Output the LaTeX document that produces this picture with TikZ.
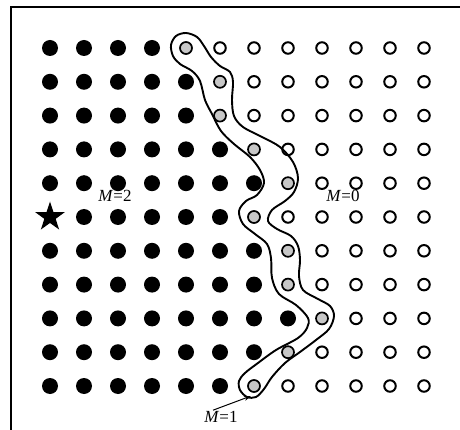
\documentclass[tikz,border=0pt]{standalone}
\usepackage{fontspec}
\setmainfont{Liberation Serif}
\usetikzlibrary{arrows.meta, shapes.geometric}

\tikzset{
  blackdot/.style={circle, fill=black, inner sep=0pt, minimum size=16pt},
  opendot/.style={circle, draw, line width=2pt, fill=white, inner sep=0pt, minimum size=11.5pt},
  greydot/.style={circle, draw, line width=1.7pt, fill=black!22, inner sep=0pt, minimum size=12pt},
  starmark/.style={star, star points=5, star point ratio=2.6, fill=black, inner sep=0pt, minimum size=31pt},
  mlabel/.style={font=\fontsize{17}{17}\selectfont, inner sep=1pt}
}

\begin{document}
\begin{tikzpicture}[>={Stealth[length=7pt, width=5pt]}, x=1pt, y=-1pt]
  \useasboundingbox (0,0) rectangle (460,430);
  % frame
  \draw[line width=1.4pt] (11,430) -- (11,7) -- (460,7);

  % lattice: black left of the boundary, grey on it, open right of it
  \foreach \r/\m in {0/4,1/5,2/5,3/6,4/7,5/6,6/7,7/7,8/8,9/7,10/6} {
    \foreach \c in {0,...,11} {
      \ifnum\c<\m \def\kind{blackdot}\else\ifnum\c=\m \def\kind{greydot}\else\def\kind{opendot}\fi\fi
      \ifnum\r=5 \ifnum\c=0 \def\kind{starmark}\fi\fi
      \node[\kind] (g-\r-\c) at ({50+34*\c},{48+33.8*\r}) {};
    }
  }

  % boundary contour
  \draw[line width=1.9pt] plot[smooth cycle, tension=0.55] coordinates {
    (186,33) (197,37) (204,46) (211,57) (220,66) (230,72) (233,82) (232,100)
    (234,116) (243,127) (262,137) (280,147) (293,162) (298,178) (294,192)
    (285,201) (272,210) (268,221) (277,229) (291,236) (298,246) (300,260)
    (299,276) (303,290) (318,299) (330,306) (334,316) (329,329) (316,340)
    (300,352) (285,363) (272,377) (264,389) (256,397) (247,397) (240,390)
    (239,381) (245,373) (258,363) (276,350) (298,338) (307,328) (308,318)
    (296,305) (279,294) (272,278) (271,258) (267,244) (255,234) (243,224)
    (239,211) (246,201) (257,195) (264,183) (260,170) (250,157) (234,144)
    (221,131) (212,114) (205,100) (200,81) (192,71) (180,64) (173,56)
    (171,45) (176,36)};

  % labels
  \node[mlabel] (m2) at (115,196) {\textit{M}=2};
  \node[mlabel] (m0) at (343,196) {\textit{M}=0};
  \node[mlabel] (m1) at (221,417) {\textit{M}=1};
  \coordinate (tip) at (251,396);
  \draw[->, line width=1pt] ([xshift=-8pt]m1.north) -- (tip);
\end{tikzpicture}
\end{document}
